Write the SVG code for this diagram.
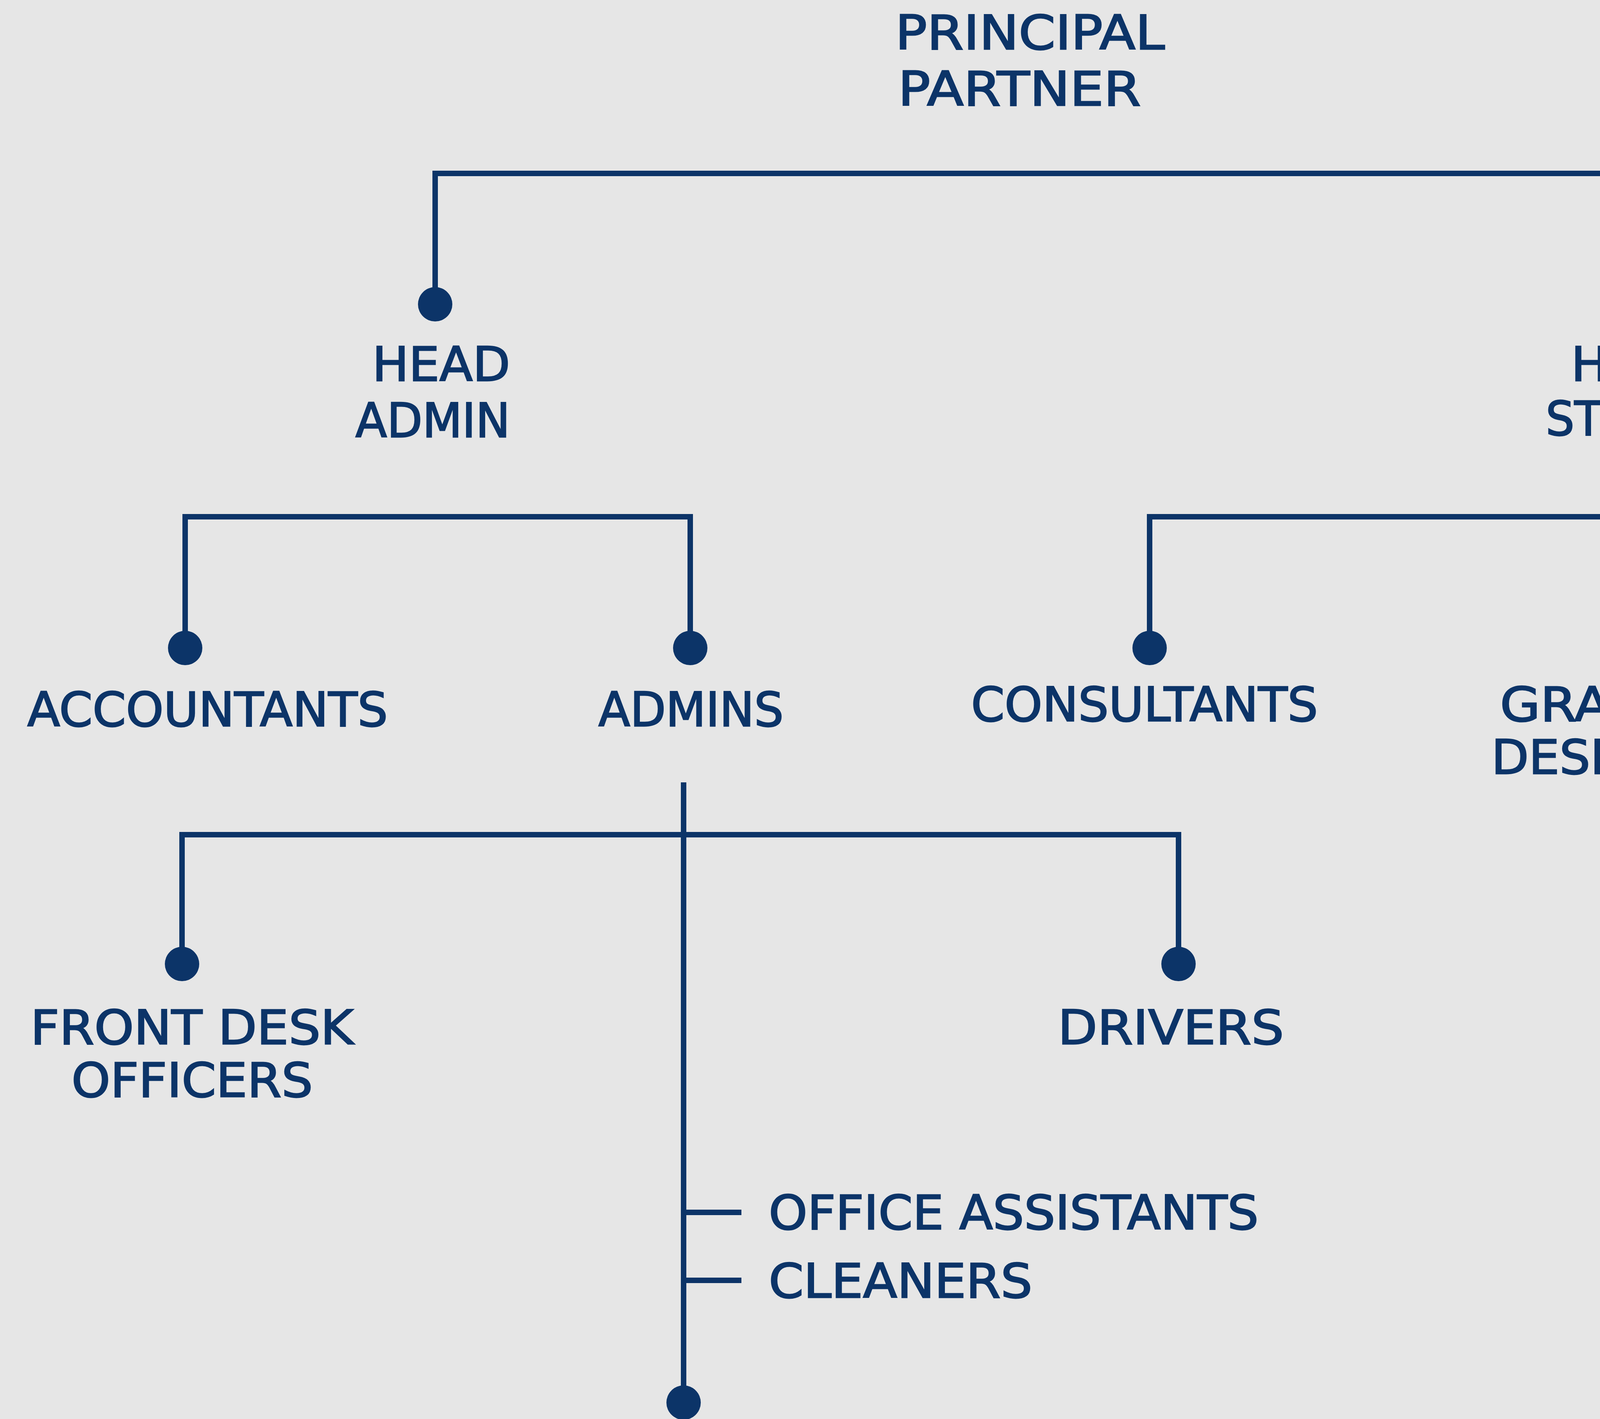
<svg xmlns="http://www.w3.org/2000/svg" width="6826" height="3633" viewBox="0 0 6826 3633">
<style>
.ln{stroke:#0c3468;stroke-width:14;fill:none;stroke-linecap:butt}
.dot{fill:#0c3468}
.lbl{font-family:"DejaVu Sans","Liberation Sans",sans-serif;font-size:122px;fill:#0c3468;stroke:#0c3468;stroke-width:3}
.title{font-family:"Liberation Serif","DejaVu Serif",serif;font-weight:bold;font-size:360px;fill:#0a336a;stroke:#0a336a;stroke-width:10}
</style>
<rect x="0" y="0" width="6826" height="3633" fill="#e6e6e6"/>
<g id="connectors">
<path class="ln" d="M1114,779 V444 H4210 V779"/>
<path class="ln" d="M474,1659 V1323 H1767 V1659"/>
<path class="ln" d="M2943,1659 V1323 H5490 V1659"/>
<path class="ln" d="M4223,1323 V1650"/>
<path class="ln" d="M1750,2003 V3591"/>
<path class="ln" d="M466,2468 V2137 H3017 V2468"/>
<path class="ln" d="M1750,3104 H1898 M1750,3278 H1898"/>
<path class="ln" d="M5490,1994 V3047"/>
<path class="ln" d="M5490,2403 H5637 M5490,2586 H5637"/>
<circle class="dot" cx="1114" cy="779" r="44"/>
<circle class="dot" cx="4210" cy="779" r="44"/>
<circle class="dot" cx="474" cy="1659" r="44"/>
<circle class="dot" cx="1767" cy="1659" r="44"/>
<circle class="dot" cx="2943" cy="1659" r="44"/>
<circle class="dot" cx="4223" cy="1650" r="44"/>
<circle class="dot" cx="5490" cy="1659" r="44"/>
<circle class="dot" cx="466" cy="2468" r="44"/>
<circle class="dot" cx="3017" cy="2468" r="44"/>
<circle class="dot" cx="1750" cy="3591" r="44"/>
<circle class="dot" cx="5490" cy="3047" r="44"/>
</g>
<g id="title">
<text class="title" x="4941" y="208" textLength="1676" lengthAdjust="spacingAndGlyphs">STRUCTURE</text>
</g>
<g id="principal-partner">
<text class="lbl" x="2292" y="126" textLength="690" lengthAdjust="spacingAndGlyphs">PRINCIPAL</text>
<text class="lbl" x="2299" y="270" textLength="622" lengthAdjust="spacingAndGlyphs">PARTNER</text>
</g>
<g id="head-admin">
<text class="lbl" x="953" y="975" textLength="353" lengthAdjust="spacingAndGlyphs">HEAD</text>
<text class="lbl" x="910" y="1119" textLength="396" lengthAdjust="spacingAndGlyphs">ADMIN</text>
</g>
<g id="head-studio">
<text class="lbl" x="4022" y="975" textLength="357" lengthAdjust="spacingAndGlyphs">HEAD</text>
<text class="lbl" x="3957" y="1114" textLength="444" lengthAdjust="spacingAndGlyphs">STUDIO</text>
</g>
<g id="accountants">
<text class="lbl" x="70" y="1859" textLength="923" lengthAdjust="spacingAndGlyphs">ACCOUNTANTS</text>
</g>
<g id="admins">
<text class="lbl" x="1532" y="1859" textLength="474" lengthAdjust="spacingAndGlyphs">ADMINS</text>
</g>
<g id="consultants">
<text class="lbl" x="2486" y="1846" textLength="888" lengthAdjust="spacingAndGlyphs">CONSULTANTS</text>
</g>
<g id="graphics-designers">
<text class="lbl" x="3840" y="1846" textLength="679" lengthAdjust="spacingAndGlyphs">GRAPHICS</text>
<text class="lbl" x="3818" y="1981" textLength="723" lengthAdjust="spacingAndGlyphs">DESIGNERS</text>
</g>
<g id="architects">
<text class="lbl" x="5050" y="1846" textLength="797" lengthAdjust="spacingAndGlyphs">ARCHITECTS</text>
</g>
<g id="front-desk-officers">
<text class="lbl" x="78" y="2673" textLength="827" lengthAdjust="spacingAndGlyphs">FRONT DESK</text>
<text class="lbl" x="183" y="2808" textLength="618" lengthAdjust="spacingAndGlyphs">OFFICERS</text>
</g>
<g id="drivers">
<text class="lbl" x="2708" y="2673" textLength="579" lengthAdjust="spacingAndGlyphs">DRIVERS</text>
</g>
<g id="office-assistants">
<text class="lbl" x="1968" y="3147" textLength="1254" lengthAdjust="spacingAndGlyphs">OFFICE ASSISTANTS</text>
</g>
<g id="cleaners">
<text class="lbl" x="1968" y="3322" textLength="675" lengthAdjust="spacingAndGlyphs">CLEANERS</text>
</g>
<g id="interns">
<text class="lbl" x="5698" y="2447" textLength="523" lengthAdjust="spacingAndGlyphs">INTERNS</text>
</g>
<g id="corp-members">
<text class="lbl" x="5690" y="2634" textLength="1080" lengthAdjust="spacingAndGlyphs">CORP MEMBERS</text>
</g>
</svg>
